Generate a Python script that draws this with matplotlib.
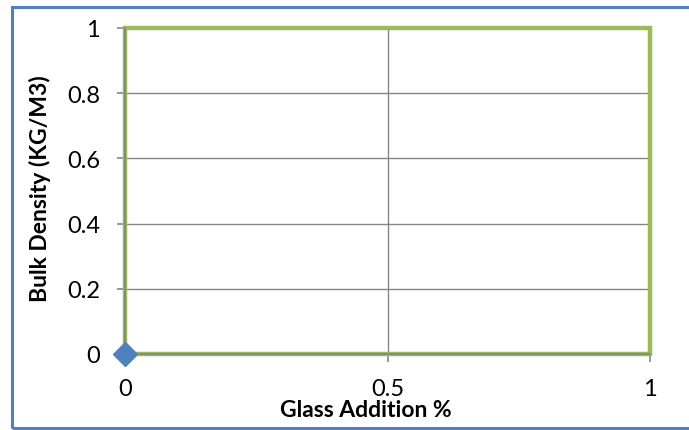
import matplotlib.pyplot as plt
from matplotlib.patches import Rectangle

plt.rcParams['font.family'] = ['Lato', 'DejaVu Sans']

# series data
frame_x = [0, 0, 1, 1, 0]
frame_y = [0, 1, 1, 0, 0]
point_x = [0]
point_y = [0]

x_ticks = [0, 0.5, 1]
y_ticks = [0, 0.2, 0.4, 0.6, 0.8, 1]

grid_gray = '#868686'

fig = plt.figure(figsize=(6.89, 4.31), dpi=100)
ax = fig.add_axes([125 / 689, 76 / 431, 525 / 689, 326 / 431])

# outer chart border
fig.patches.append(Rectangle((12 / 689, 2 / 431), 1.0, 421 / 431,
                             transform=fig.transFigure, fill=False,
                             edgecolor='#4F81BD', linewidth=2.2, clip_on=False))

ax.plot(frame_x, frame_y, color='#9BBB59', linewidth=3.2, zorder=2,
        solid_joinstyle='miter', clip_on=False)
ax.plot(point_x, point_y, linestyle='none', marker='D', markersize=12,
        color='#4F81BD', zorder=5, clip_on=False)

ax.set_xlim(0, 1)
ax.set_ylim(0, 1)
ax.set_xticks(x_ticks)
ax.set_xticklabels(['0', '0.5', '1'])
ax.set_yticks(y_ticks)
ax.set_yticklabels(['0', '0.2', '0.4', '0.6', '0.8', '1'])

ax.grid(True, color=grid_gray, linewidth=1)
ax.set_axisbelow(True)

for side in ['top', 'right']:
    ax.spines[side].set_visible(False)
for side in ['left', 'bottom']:
    ax.spines[side].set_color(grid_gray)
    ax.spines[side].set_linewidth(1.3)
    ax.spines[side].set_zorder(3)

ax.tick_params(axis='both', colors=grid_gray, labelcolor='black',
               labelsize=17, length=6, width=1.2)
ax.tick_params(axis='y', pad=12)
ax.tick_params(axis='x', pad=11)

ax.set_xlabel('Glass Addition %', fontsize=16.5, fontweight='bold', va='baseline')
ax.xaxis.set_label_coords(0.458, -0.190)
ax.set_ylabel('Bulk Density (KG/M3)', fontsize=16.5, fontweight='bold',
              va='center')
ax.yaxis.set_label_coords(-0.162, 0.509)

fig.savefig('out.png', dpi=100)
